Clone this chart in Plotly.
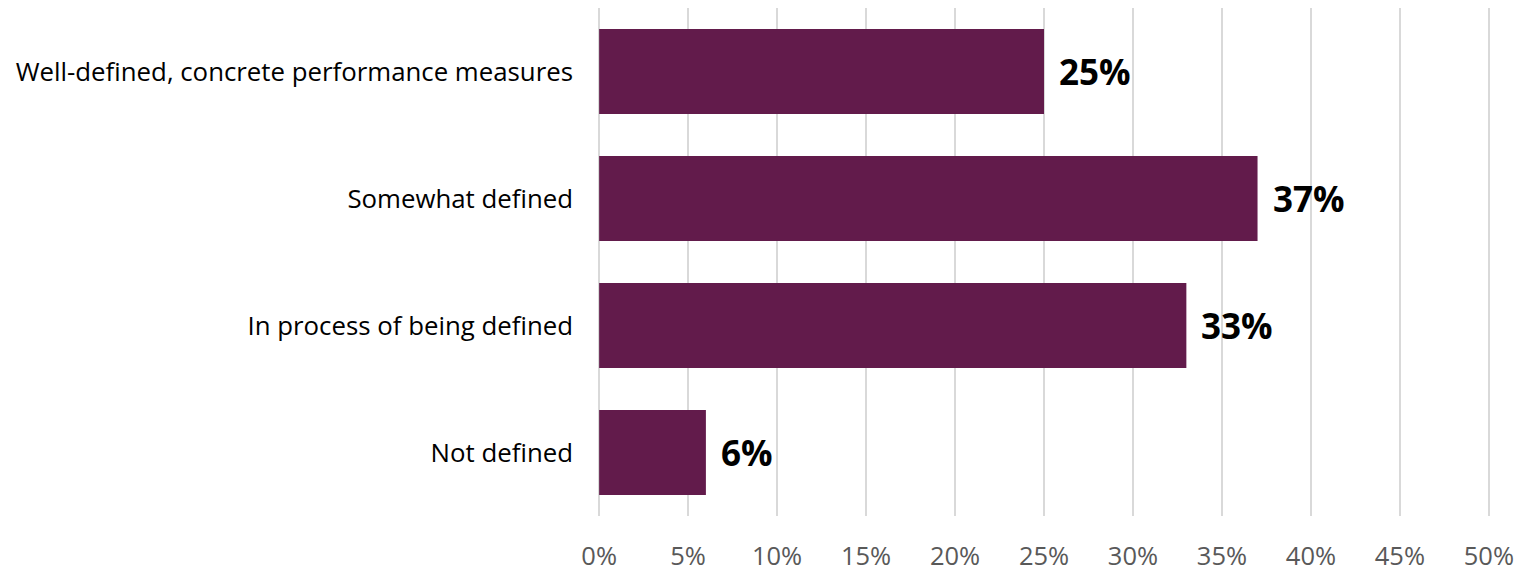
import plotly.graph_objects as go

categories = [
    "Well-defined, concrete performance measures",
    "Somewhat defined",
    "In process of being defined",
    "Not defined",
]
values = [25, 37, 33, 6]
tick_vals = [0, 5, 10, 15, 20, 25, 30, 35, 40, 45, 50]
tick_text = [f"{v}%" for v in tick_vals]

BAR_COLOR = "#621B4B"
FONT = "Open Sans"

fig = go.Figure(
    go.Bar(
        x=values,
        y=categories,
        orientation="h",
        marker=dict(color=BAR_COLOR, line=dict(width=0)),
        hoverinfo="skip",
    )
)

# value labels just past each bar end
for cat, val in zip(categories, values):
    fig.add_annotation(
        x=val, y=cat, text=f"<b>{val}%</b>", showarrow=False,
        xanchor="left", yanchor="middle", xshift=13,
        font=dict(family=FONT, size=35, color="#000000"),
    )

fig.update_layout(
    width=1522, height=571,
    margin=dict(l=597, r=31, t=8, b=55),
    paper_bgcolor="white", plot_bgcolor="white",
    bargap=0.33,
    showlegend=False,
    font=dict(family=FONT),
)
# small padding on the range keeps the 0% and 50% gridlines visible
fig.update_xaxes(
    range=[-0.12, 50.12], tickvals=tick_vals, ticktext=tick_text,
    showgrid=True, gridcolor="#D9D9D9", gridwidth=2,
    zeroline=False, showline=False, ticks="",
    tickfont=dict(family=FONT, size=25.5, color="#595959"),
    ticklabelstandoff=22, automargin=False,
)
fig.update_yaxes(
    categoryorder="array", categoryarray=categories[::-1],
    showgrid=False, zeroline=False, showline=False, ticks="",
    tickfont=dict(family=FONT, size=25.8, color="#000000"),
    ticklabelstandoff=23, automargin=False,
)

fig.write_html("out.html")
